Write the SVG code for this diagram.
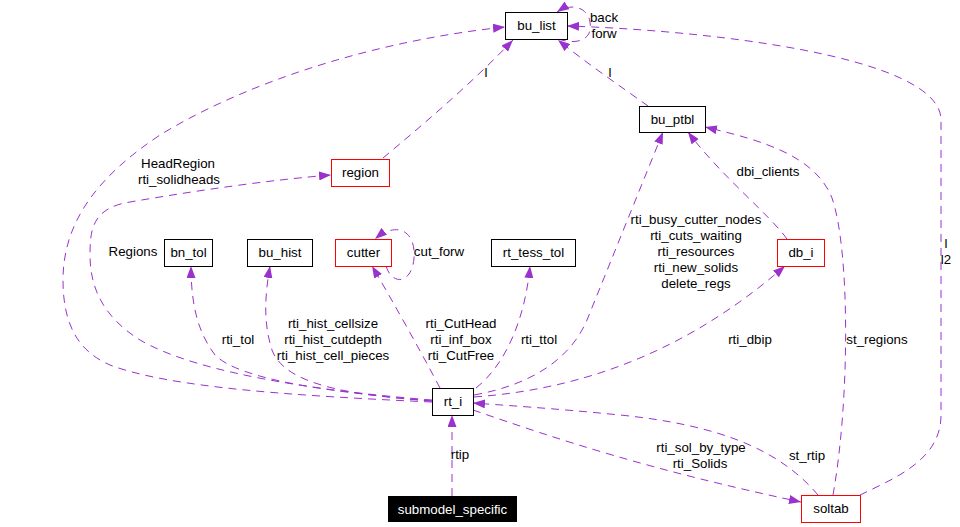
<svg xmlns="http://www.w3.org/2000/svg" width="960" height="527" viewBox="0 0 960 527">
<style>
text{font-family:"Liberation Sans",Arial,sans-serif;font-size:13.3px;fill:#000}
.n{text-anchor:middle}
.box{fill:#fff;stroke:#000;stroke-width:1}
.red{fill:#fff;stroke:#ff0000;stroke-width:1}
.e{fill:none;stroke:#9a32cd;stroke-width:1;stroke-dasharray:8,6;marker-end:url(#ah)}
.l{text-anchor:middle}
</style>
<defs>
<marker id="ah" markerUnits="userSpaceOnUse" markerWidth="12" markerHeight="9" refX="12" refY="4.5" orient="auto">
<path d="M0,0 L12,4.5 L0,9 z" fill="#9a32cd"/>
</marker>
</defs>
<rect width="960" height="527" fill="#fff"/>
<g id="connectors">
<path class="e" d="M558,39 C580,46 593,38 590,22 C588,8 572,2 557,12"/>
<path class="e" d="M860,495 C895,478 941,460 941,415 L941,120 C941,55 700,30 567,26"/>
<path class="e" d="M383,158 C420,127 470,85 513,40"/>
<path class="e" d="M648,106 C620,86 585,62 558,40"/>
<path class="e" d="M432,402 C300,396 170,388 110,365 C75,350 63,320 63,280 C63,220 100,175 160,135 C250,80 380,40 505,27"/>
<path class="e" d="M432,400 C330,392 200,375 140,340 C105,318 90,290 90,255 C90,230 92,208 130,202 C200,190 270,180 331,175"/>
<path class="e" d="M432,401 C330,392 240,380 215,355 C200,335 191,310 191,266"/>
<path class="e" d="M432,401 C350,395 285,385 272,350 C264,325 264,300 270,266"/>
<path class="e" d="M440,388 C420,350 392,300 372,266"/>
<path class="e" d="M386,266 C392,286 412,284 414,258 C416,232 398,220 375,239"/>
<path class="e" d="M476,388 C505,365 525,320 530,266"/>
<path class="e" d="M474,395 C530,385 570,360 587,320 L663,132"/>
<path class="e" d="M787,239 C770,215 720,175 688,132"/>
<path class="e" d="M833,495 C850,400 850,250 832,198 C815,155 760,140 705,127"/>
<path class="e" d="M474,397 C600,388 700,340 785,266"/>
<path class="e" d="M818,495 C780,450 720,425 620,415 C550,408 500,405 473,403"/>
<path class="e" d="M473,410 C560,440 650,470 801,502"/>
<path class="e" d="M452,496 L452,415"/>
<text class="l" x="604" y="22">back</text>
<text class="l" x="604" y="38">forw</text>
<text class="l" x="486" y="77">l</text>
<text class="l" x="610" y="77">l</text>
<text class="l" x="946" y="248">l</text>
<text class="l" x="946" y="264">l2</text>
<text class="l" x="178" y="168">HeadRegion</text>
<text class="l" x="179" y="184">rti_solidheads</text>
<text class="l" x="133" y="256">Regions</text>
<text class="l" x="439" y="256">cut_forw</text>
<text class="l" x="768" y="176">dbi_clients</text>
<text class="l" x="696" y="224">rti_busy_cutter_nodes</text>
<text class="l" x="696" y="240">rti_cuts_waiting</text>
<text class="l" x="696" y="256">rti_resources</text>
<text class="l" x="696" y="272">rti_new_solids</text>
<text class="l" x="696" y="288">delete_regs</text>
<text class="l" x="238" y="344">rti_tol</text>
<text class="l" x="333" y="328">rti_hist_cellsize</text>
<text class="l" x="333" y="344">rti_hist_cutdepth</text>
<text class="l" x="333" y="360">rti_hist_cell_pieces</text>
<text class="l" x="461" y="328">rti_CutHead</text>
<text class="l" x="461" y="344">rti_inf_box</text>
<text class="l" x="461" y="360">rti_CutFree</text>
<text class="l" x="539" y="344">rti_ttol</text>
<text class="l" x="750" y="344">rti_dbip</text>
<text class="l" x="877" y="344">st_regions</text>
<text class="l" x="460" y="459">rtip</text>
<text class="l" x="701" y="452">rti_sol_by_type</text>
<text class="l" x="700" y="468">rti_Solids</text>
<text class="l" x="807" y="460">st_rtip</text>
</g>
<g id="bu_list"><rect class="box" x="505.5" y="12.5" width="62" height="27"/><text class="n" x="536.5" y="30">bu_list</text></g>
<g id="bu_ptbl"><rect class="box" x="639.5" y="106.5" width="66" height="26"/><text class="n" x="672.5" y="124">bu_ptbl</text></g>
<g id="region"><rect class="red" x="331.5" y="159.5" width="58" height="27"/><text class="n" x="360.5" y="177">region</text></g>
<g id="cutter"><rect class="red" x="335.5" y="239.5" width="56" height="27"/><text class="n" x="363.5" y="257">cutter</text></g>
<g id="rt_tess_tol"><rect class="box" x="491.5" y="239.5" width="84" height="27"/><text class="n" x="533.5" y="257">rt_tess_tol</text></g>
<g id="bn_tol"><rect class="box" x="164.5" y="239.5" width="48" height="27"/><text class="n" x="188.5" y="257">bn_tol</text></g>
<g id="bu_hist"><rect class="box" x="247.5" y="239.5" width="65" height="27"/><text class="n" x="280" y="257">bu_hist</text></g>
<g id="db_i"><rect class="red" x="777.5" y="239.5" width="47" height="27"/><text class="n" x="801" y="257">db_i</text></g>
<g id="rt_i"><rect class="box" x="432.5" y="388.5" width="41" height="27"/><text class="n" x="453" y="406">rt_i</text></g>
<g id="submodel_specific"><rect x="388" y="496" width="129" height="26" fill="#000"/><text class="n" x="452.5" y="514" style="fill:#fff">submodel_specific</text></g>
<g id="soltab"><rect class="red" x="801.5" y="495.5" width="59" height="27"/><text class="n" x="831" y="513">soltab</text></g>
</svg>
